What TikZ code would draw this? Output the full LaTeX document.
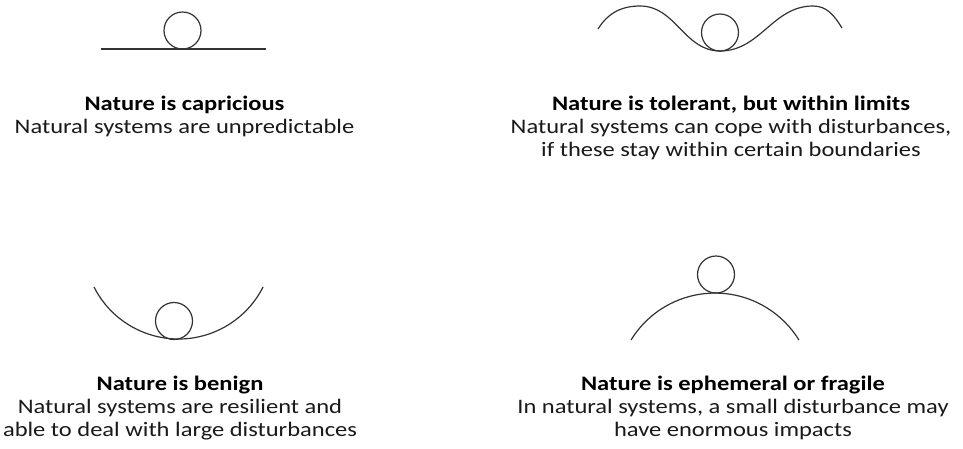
\documentclass[tikz,border=0pt]{standalone}
\usepackage{fontspec}
\setmainfont[FakeStretch=1.19]{Carlito}
\begin{document}
\begin{tikzpicture}[x=1pt,y=-1pt,
  curve/.style={draw=black!80,line width=1.2pt},
  ball/.style={draw=black!80,line width=1.2pt},
  headline/.style={anchor=base,inner sep=0pt,font=\fontsize{20.6}{23}\selectfont\bfseries,text=black},
  bodyline/.style={anchor=base,inner sep=0pt,font=\fontsize{20.6}{23}\selectfont,text=black!90}]
\useasboundingbox (0,0) rectangle (963,448);

% capricious: ball on a flat line
\coordinate (flatL) at (101,49);
\coordinate (flatR) at (266,49);
\draw[curve] (flatL) -- (flatR);
\draw[ball] (182.5,30.5) circle (18.5);
\node[headline] (capT) at (184.5,110.5) {Nature is capricious};
\node[bodyline] (capB) at (184.5,133.5) {Natural systems are unpredictable};

% tolerant: ball in a dip between two humps
\coordinate (wA) at (598,29);
\coordinate (wB) at (640,6);
\coordinate (wC) at (720,51);
\coordinate (wD) at (813,6);
\coordinate (wE) at (842,28);
\draw[curve] (wA) to[out=58,in=180] (wB) to[out=0,in=180] (wC)
  to[out=0,in=180] (wD) to[out=0,in=122] (wE);
\draw[ball] (720,32.5) circle (18.5);
\node[headline] (tolT) at (731,110.5) {Nature is tolerant, but within limits};
\node[bodyline] (tolB1) at (731,133.5) {Natural systems can cope with disturbances,};
\node[bodyline] (tolB2) at (731,156.5) {if these stay within certain boundaries};

% benign: ball in a circular bowl
\coordinate (bowlL) at (94,287);
\draw[curve] (bowlL) arc[start angle=153.2,end angle=26.8,radius=94.7];
\draw[ball] (174,321) circle (18.5);
\node[headline] (benT) at (180,390.5) {Nature is benign};
\node[bodyline] (benB1) at (180,413.5) {Natural systems are resilient and};
\node[bodyline] (benB2) at (180,436.5) {able to deal with large disturbances};

% ephemeral: ball on top of a circular hill
\coordinate (hillL) at (631,340);
\draw[curve] (hillL) arc[start angle=211.6,end angle=328.4,radius=98.6];
\draw[ball] (716,274.5) circle (18.5);
\node[headline] (ephT) at (733,390.5) {Nature is ephemeral or fragile};
\node[bodyline] (ephB1) at (733,413.5) {In natural systems, a small disturbance may};
\node[bodyline] (ephB2) at (733,436.5) {have enormous impacts};
\end{tikzpicture}
\end{document}
